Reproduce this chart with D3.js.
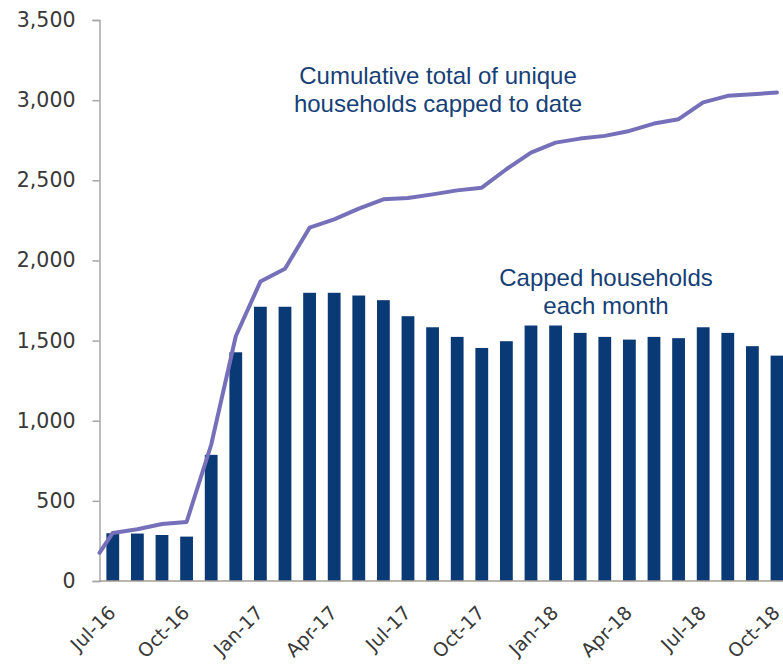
<!DOCTYPE html>
<html>
<head>
<meta charset="utf-8">
<script src="https://cdn.jsdelivr.net/npm/d3@7"></script>
<style>
  html, body { margin: 0; padding: 0; background: #ffffff; overflow: hidden; }
  svg { display: block; }
</style>
</head>
<body>
<svg id="chart" width="783" height="666"></svg>
<script>
// ---- Data ----
const months = ["Jul-16","Aug-16","Sep-16","Oct-16","Nov-16","Dec-16",
  "Jan-17","Feb-17","Mar-17","Apr-17","May-17","Jun-17",
  "Jul-17","Aug-17","Sep-17","Oct-17","Nov-17","Dec-17",
  "Jan-18","Feb-18","Mar-18","Apr-18","May-18","Jun-18",
  "Jul-18","Aug-18","Sep-18","Oct-18"];
const cappedEachMonth = [298, 296, 287, 277, 787, 1427,
  1711, 1711, 1798, 1798, 1781, 1752,
  1652, 1583, 1523, 1454, 1496, 1594,
  1594, 1548, 1523, 1506, 1523, 1515,
  1583, 1548, 1465, 1406];
const cumulativeUnique = [300, 323, 356, 368, 850, 1527,
  1868, 1948, 2204, 2256, 2323, 2381,
  2389, 2412, 2437, 2454, 2569, 2673,
  2735, 2760, 2777, 2808, 2854, 2881,
  2986, 3027, 3037, 3047];
const cumulativeAtAxis = 175;   // value where the line meets the vertical axis
const yTicks = [0, 500, 1000, 1500, 2000, 2500, 3000, 3500];
const xTickLabels = ["Jul-16","Oct-16","Jan-17","Apr-17","Jul-17","Oct-17","Jan-18","Apr-18","Jul-18","Oct-18"];
const lineLabel = ["Cumulative total of unique", "households capped to date"];
const barLabel = ["Capped households", "each month"];

// ---- Layout ----
const svg = d3.select("#chart");
const x0 = 99.5, yBottom = 581, yTop = 20;
const step = 24.6;
const x = d3.scaleBand()
  .domain(months)
  .range([x0, x0 + step * (months.length - 0.48 + 0.56)])
  .paddingInner(0.48)
  .paddingOuter(0.28);
const y = d3.scaleLinear().domain([0, 3500]).range([yBottom, yTop]);

const barColor = "#0a3a75";
const lineColor = "#7670ba";
const textColor = "#173f77";
const axisColor = "#a6a6a6";

// Bars
svg.append("g").selectAll("rect")
  .data(months)
  .join("rect")
  .attr("x", d => x(d))
  .attr("width", x.bandwidth())
  .attr("y", (d, i) => y(cappedEachMonth[i]))
  .attr("height", (d, i) => y(0) - y(cappedEachMonth[i]))
  .attr("fill", barColor);

// Y axis
const yAxis = d3.axisLeft(y)
  .tickValues(yTicks)
  .tickSize(7)
  .tickPadding(17)
  .tickFormat(d3.format(","));
const gy = svg.append("g").attr("transform", `translate(${x0},0)`).call(yAxis);
gy.select(".domain").attr("stroke", axisColor).attr("stroke-width", 1.5);
gy.selectAll(".tick line").attr("stroke", axisColor).attr("stroke-width", 1.5);
gy.selectAll(".tick text")
  .attr("fill", "#383838")
  .style("font-family", "'DejaVu Sans', sans-serif")
  .style("font-size", "20.5px");

// X axis
const xAxis = d3.axisBottom(x)
  .tickValues(xTickLabels)
  .tickSize(0)
  .tickPadding(0);
const gx = svg.append("g").attr("transform", `translate(0,${yBottom})`).call(xAxis);
gx.select(".domain").attr("stroke", "#a59c94").attr("stroke-width", 1.5)
  .attr("d", `M${x0},0H${x.range()[1]}`);
gx.selectAll(".tick text")
  .attr("fill", "#383838")
  .style("font-family", "'DejaVu Sans', sans-serif")
  .style("font-size", "19px")
  .attr("text-anchor", "end")
  .attr("dy", null)
  .attr("y", null)
  .attr("transform", "translate(4,33) rotate(-45)");

// Line
const pts = [[x0, y(cumulativeAtAxis)]].concat(
  months.map((m, i) => [x(m) + x.bandwidth() / 2, y(cumulativeUnique[i])])
);
svg.append("path")
  .datum(pts)
  .attr("d", d3.line())
  .attr("fill", "none")
  .attr("stroke", lineColor)
  .attr("stroke-width", 4)
  .attr("stroke-linejoin", "round")
  .attr("stroke-linecap", "round");

// Annotations
function addLabel(lines, cx, baseline, gap) {
  const t = svg.append("text")
    .attr("text-anchor", "middle")
    .attr("fill", textColor)
    .style("font-family", "'Liberation Sans', Arial, sans-serif")
    .style("font-size", "24px");
  lines.forEach((s, i) => {
    t.append("tspan").attr("x", cx).attr("y", baseline + i * gap).text(s);
  });
}
addLabel(lineLabel, 438, 84, 28);
addLabel(barLabel, 606, 286, 28);
</script>
</body>
</html>
